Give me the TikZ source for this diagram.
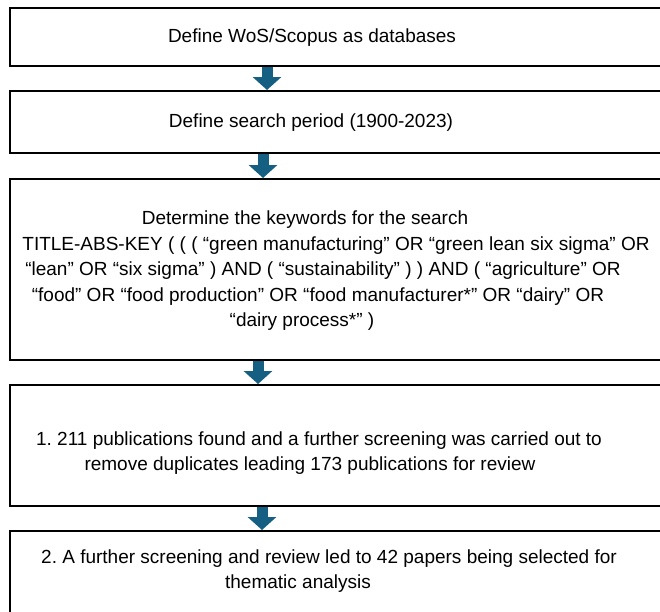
\documentclass[tikz,border=0pt]{standalone}
\usepackage{fontspec}
\setmainfont{Liberation Sans}
\usetikzlibrary{arrows.meta}
\definecolor{arrowblue}{HTML}{156082}
\frenchspacing
\tikzset{
  stepbox/.style={draw=black, line width=2pt, rectangle, anchor=north west, minimum width=680pt, inner sep=0pt},
  txt/.style={inner sep=0pt, anchor=base, font=\fontsize{19}{22}\selectfont},
  bigarrow/.style={line width=11pt, draw=arrowblue, -{Triangle[width=28pt,length=13pt,fill=arrowblue]}}
}
\begin{document}
\begin{tikzpicture}[x=1pt,y=-1pt]
\useasboundingbox (0,0) rectangle (660,611);
\fill[white] (0,0) rectangle (660,611);
\node[stepbox, minimum height=58pt] (b1) at (9,7) {};
\node[stepbox, minimum height=62pt] (b2) at (9,90) {};
\node[stepbox, minimum height=181pt] (b3) at (9,178) {};
\node[stepbox, minimum height=121pt] (b4) at (9,384) {};
\node[stepbox, minimum height=120pt] (b5) at (9,530) {};

\node[txt] (t1) at (312,42) {Define WoS/Scopus as databases};
\node[txt] (t2) at (311,127) {Define search period (1900-2023)};
\node[txt] (t3a) at (305,224) {Determine the keywords for the search};
\node[txt] (t3b) at (336,250) {TITLE-ABS-KEY ( ( ( “green manufacturing” OR “green lean six sigma” OR};
\node[txt] (t3c) at (323,275) {“lean” OR “six sigma” ) AND ( “sustainability” ) ) AND ( “agriculture” OR};
\node[txt] (t3d) at (318,301) {“food” OR “food production” OR “food manufacturer*” OR “dairy” OR};
\node[txt] (t3e) at (302,326) {“dairy process*” )};
\node[txt] (t4a) at (319,445) {1. 211 publications found and a further screening was carried out to};
\node[txt] (t4b) at (310,470) {remove duplicates leading 173 publications for review};
\node[txt] (t5a) at (329,563) {2. A further screening and review led to 42 papers being selected for};
\node[txt] (t5b) at (298,588) {thematic analysis};

\coordinate (x1) at (267,0);
\coordinate (x2) at (263,0);
\coordinate (x3) at (258,0);
\coordinate (x4) at (262,0);
\draw[bigarrow] (b1.south -| x1) -- (b2.north -| x1);
\draw[bigarrow] (b2.south -| x2) -- (b3.north -| x2);
\draw[bigarrow] (b3.south -| x3) -- (b4.north -| x3);
\draw[bigarrow] (b4.south -| x4) -- (b5.north -| x4);
\end{tikzpicture}
\end{document}
